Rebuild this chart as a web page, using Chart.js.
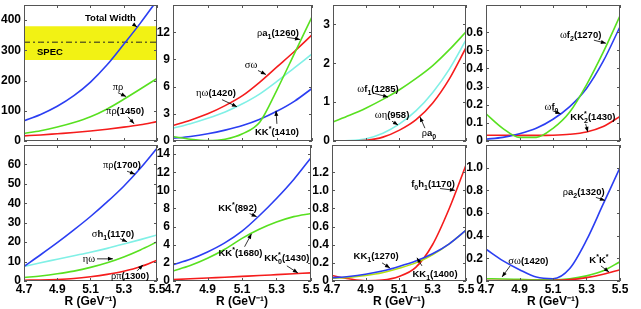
<!DOCTYPE html>
<html>
<head>
<meta charset="utf-8">
<script src="https://cdn.jsdelivr.net/npm/chart.js@4.4.1/dist/chart.umd.min.js"></script>
<style>
  body { margin: 0; background: #fff; width: 641px; height: 309px; position: relative; overflow: hidden; }
  canvas { position: absolute; }
</style>
</head>
<body>
<script>
const R = [4.7, 4.8, 4.9, 5.0, 5.1, 5.2, 5.3, 5.4, 5.5];
const xTicks = [4.7, 4.9, 5.1, 5.3, 5.5];

// top row
const totalWidth = [67, 88, 115, 150, 195, 252, 320, 390, 465];
const piRho = [25, 34, 46, 61, 80, 106, 138, 172, 207];
const piRho1450 = [17, 20, 24, 28, 33, 39, 46, 54, 64];
const specLow = 268, specMid = 327, specHigh = 380;
const ticksA = [0, 100, 200, 300, 400];

const sigmaOmega = [1.7, 2.3, 3.0, 3.9, 5.0, 6.5, 8.2, 9.9, 11.7];
const etaOmega1420 = [1.4, 1.9, 2.5, 3.2, 4.1, 5.2, 6.6, 8.1, 9.6];
const kkStar1410 = [0.3, 0.5, 0.8, 1.2, 1.7, 2.4, 3.3, 4.4, 5.8];
const rhoA1 = [0.5, 0.2, 0.05, 0.2, 0.8, 2.1, 5.7, 9.7, 13.7];
const ticksB = [0, 3, 6, 9, 12];

const omegaF1 = [0.49, 0.66, 0.85, 1.07, 1.32, 1.61, 1.94, 2.35, 2.81];
const omegaEta958 = [0, 0.01, 0.06, 0.2, 0.44, 0.78, 1.25, 1.85, 2.6];
const rhoA0 = [0, 0, 0.02, 0.1, 0.28, 0.55, 0.98, 1.6, 2.4];
const ticksC = [0, 1, 2, 3];

const omegaF0 = [0.01, 0.02, 0.04, 0.07, 0.12, 0.19, 0.29, 0.44, 0.63];
const omegaF2 = [0.15, 0.07, 0.02, 0.02, 0.07, 0.16, 0.31, 0.49, 0.69];
const kk2Star1430 = [0.032, 0.032, 0.031, 0.031, 0.032, 0.037, 0.05, 0.08, 0.135];
const ticksD = [0, 0.1, 0.2, 0.3, 0.4, 0.5, 0.6];

// bottom row
const piRho1700 = [7.5, 13.5, 19.7, 26.3, 33.2, 40.7, 48.8, 58.0, 68.3];
const sigmaH1 = [7.5, 9.4, 11.2, 13.0, 14.8, 16.8, 19.0, 21.3, 23.7];
const etaOmega = [1.8, 2.6, 3.7, 5.1, 7.0, 9.4, 12.4, 16.0, 20.1];
const rhoPi1300 = [0.4, 0.5, 0.8, 1.3, 2.2, 3.4, 5.0, 7.3, 10.7];
const ticksE = [0, 10, 20, 30, 40, 50, 60];

const kkStar892 = [1.8, 2.4, 3.2, 4.2, 5.5, 7.2, 9.1, 11.2, 13.6];
const kkStar1680 = [1.1, 1.7, 2.5, 3.5, 4.7, 5.7, 6.5, 7.1, 7.45];
const kk0Star1430 = [0.15, 0.24, 0.33, 0.42, 0.51, 0.6, 0.7, 0.8, 0.9];
const ticksF = [0, 2, 4, 6, 8, 10, 12, 14];

const f0h1 = [0.06, 0.025, 0.003, 0.01, 0.05, 0.15, 0.4, 0.8, 1.28];
const kk1_1270 = [0.035, 0.05, 0.075, 0.11, 0.16, 0.22, 0.3, 0.41, 0.56];
const kk1_1400 = [0.03, 0.04, 0.06, 0.09, 0.14, 0.2, 0.29, 0.41, 0.56];
const ticksG = [0, 0.2, 0.4, 0.6, 0.8, 1, 1.2];

const rhoA2 = [0.28, 0.18, 0.1, 0.035, 0.02, 0.11, 0.36, 0.68, 1.0];
const sigmaOmega1420 = [0.02, 0.018, 0.014, 0.01, 0.01, 0.02, 0.045, 0.09, 0.17];
const kStarKStar = [0.005, 0.004, 0.003, 0.003, 0.005, 0.012, 0.03, 0.06, 0.1];
const ticksH = [0, 0.2, 0.4, 0.6, 0.8, 1];

const BLUE = "#2b3ef2", RED = "#f51c1c", GREEN = "#58e020", CYAN = "#80f0e6", LIME = "#b4e010";

const fonts = {
  b: 'bold 9.5px "Liberation Sans"',
  g: '10.5px "Liberation Serif"',
  s: 'bold 7px "Liberation Sans"',
  u: 'bold 7px "Liberation Sans"'
};
const shift = { b: 0, g: 0, s: 3, u: -4 };

function line(vals, color) {
  return {
    data: R.map((x, i) => ({ x, y: vals[i] })),
    borderColor: color, borderWidth: 1.6, pointRadius: 0,
    cubicInterpolationMode: "monotone", fill: false
  };
}

const frame = {
  id: "frame",
  afterDatasetsDraw(c) {
    const { ctx, chartArea: a, scales } = c;
    ctx.save();
    ctx.strokeStyle = "#555";
    ctx.lineWidth = 1;
    ctx.strokeRect(a.left + 0.5, a.top + 0.5, a.width - 1, a.height - 1);
    ctx.beginPath();
    scales.x.ticks.forEach(t => {
      const px = Math.round(scales.x.getPixelForValue(t.value)) + 0.5;
      ctx.moveTo(px, a.bottom); ctx.lineTo(px, a.bottom - 3);
      ctx.moveTo(px, a.top); ctx.lineTo(px, a.top + 3);
    });
    scales.y.ticks.forEach(t => {
      const py = Math.round(scales.y.getPixelForValue(t.value)) + 0.5;
      ctx.moveTo(a.left, py); ctx.lineTo(a.left + 3, py);
      ctx.moveTo(a.right, py); ctx.lineTo(a.right - 3, py);
    });
    ctx.stroke();
    ctx.restore();
  }
};

function drawNotes(c, notes) {
  const { ctx, scales: { x, y } } = c;
  ctx.save();
  ctx.fillStyle = "#000";
  ctx.strokeStyle = "#000";
  notes.forEach(n => {
    if (n.a) {
      const x0 = x.getPixelForValue(n.a[0]), y0 = y.getPixelForValue(n.a[1]);
      const x1 = x.getPixelForValue(n.a[2]), y1 = y.getPixelForValue(n.a[3]);
      const ang = Math.atan2(y1 - y0, x1 - x0);
      ctx.lineWidth = 0.8;
      ctx.beginPath(); ctx.moveTo(x0, y0); ctx.lineTo(x1, y1); ctx.stroke();
      ctx.beginPath();
      ctx.moveTo(x1, y1);
      ctx.lineTo(x1 - 5 * Math.cos(ang) + 2 * Math.sin(ang), y1 - 5 * Math.sin(ang) - 2 * Math.cos(ang));
      ctx.lineTo(x1 - 5 * Math.cos(ang) - 2 * Math.sin(ang), y1 - 5 * Math.sin(ang) + 2 * Math.cos(ang));
      ctx.closePath(); ctx.fill();
    }
    let w = 0;
    n.t.forEach(s => { ctx.font = fonts[s[1]]; if (!s[2]) w += ctx.measureText(s[0]).width; });
    let px = x.getPixelForValue(n.x) - w / 2;
    const base = y.getPixelForValue(n.y) + 3.5;
    ctx.textBaseline = "alphabetic";
    ctx.textAlign = "left";
    n.t.forEach(s => {
      ctx.font = fonts[s[1]];
      ctx.fillText(s[0], px, base + shift[s[1]]);
      if (!s[2]) px += ctx.measureText(s[0]).width;
    });
  });
  ctx.restore();
}

const tickFont = { family: "Liberation Sans", size: 12, weight: "bold" };

function makePanel(p) {
  const [L, T, Rt, B] = p.rect;
  const padL = 30, padT = 3, padR = 12;
  const padB = p.bottom ? 28 : 6;
  const cv = document.createElement("canvas");
  cv.width = Rt - L + padL + padR;
  cv.height = B - T + padT + padB;
  cv.style.left = (L - padL) + "px";
  cv.style.top = (T - padT) + "px";
  document.body.appendChild(cv);
  new Chart(cv, {
    type: "line",
    data: { datasets: p.series },
    options: {
      responsive: false,
      animation: false,
      layout: { padding: { left: 0, top: padT, right: padR, bottom: p.bottom ? 0 : padB } },
      plugins: { legend: { display: false }, tooltip: { enabled: false } },
      scales: {
        x: {
          type: "linear", min: 4.7, max: 5.5,
          grid: { display: false, drawTicks: false }, border: { display: false },
          afterBuildTicks: s => { s.ticks = xTicks.map(v => ({ value: v })); },
          afterFit: s => { s.height = p.bottom ? 28 : 0; s.paddingLeft = 0; s.paddingRight = 0; },
          ticks: { display: p.bottom, padding: 1, maxRotation: 0, color: "#000", font: tickFont,
                   callback: v => v.toFixed(1) },
          title: { display: p.bottom, text: "R (GeV⁻¹)", color: "#000", padding: { top: -1, bottom: 0 },
                   font: { family: "Liberation Sans", size: 12, weight: "bold" } }
        },
        y: {
          min: 0, max: p.yMax,
          grid: { display: false, drawTicks: false }, border: { display: false },
          afterBuildTicks: s => { s.ticks = p.yTicks.map(v => ({ value: v })); },
          afterFit: s => { s.width = padL; s.paddingTop = 0; s.paddingBottom = 0; },
          ticks: { padding: 3, color: "#000", font: tickFont }
        }
      }
    },
    plugins: [frame, { id: "notes", afterDraw: c => drawNotes(c, p.notes) }]
  });
}

makePanel({
  rect: [24, 5, 157, 141], yMax: 450, yTicks: ticksA,
  series: [
    { data: R.map(x => ({ x, y: specLow })), borderWidth: 0, pointRadius: 0, fill: false, order: 5 },
    { data: R.map(x => ({ x, y: specHigh })), borderWidth: 0, pointRadius: 0, fill: "-1",
      backgroundColor: "#f2f214", order: 5 },
    { data: R.map(x => ({ x, y: specMid })), borderColor: "#222", borderWidth: 1,
      borderDash: [6, 3, 2, 3], pointRadius: 0, fill: false, order: 4 },
    line(totalWidth, BLUE), line(piRho, GREEN), line(piRho1450, RED)
  ],
  notes: [
    { t: [["Total Width", "b"]], x: 5.22, y: 407, a: [5.356, 387, 5.38, 377] },
    { t: [["SPEC", "b"]], x: 4.856, y: 297 },
    { t: [["πρ", "g"]], x: 5.265, y: 180, a: [5.265, 160, 5.314, 147] },
    { t: [["πρ", "g"], ["(1450)", "b"]], x: 5.308, y: 100, a: [5.326, 80, 5.362, 57] }
  ]
});

makePanel({
  rect: [173, 5, 312, 141], yMax: 15, yTicks: ticksB,
  series: [line(rhoA1, GREEN), line(sigmaOmega, RED), line(etaOmega1420, CYAN), line(kkStar1410, BLUE)],
  notes: [
    { t: [["ρ", "g"], ["a", "b"], ["1", "s"], ["(1260)", "b"]], x: 5.304, y: 12, a: [5.356, 11.44, 5.431, 11.2] },
    { t: [["σω", "g"]], x: 5.149, y: 8.44, a: [5.189, 7.78, 5.235, 7.33] },
    { t: [["ηω", "g"], ["(1420)", "b"]], x: 4.947, y: 5.33, a: [4.982, 4.56, 5.068, 3.78] },
    { t: [["KK", "b"], ["*", "u"], ["(1410)", "b"]], x: 5.298, y: 1.0, a: [5.298, 1.89, 5.293, 3.33] }
  ]
});

makePanel({
  rect: [333, 5, 466, 141], yMax: 3.5, yTicks: ticksC,
  series: [line(omegaF1, GREEN), line(rhoA0, RED), line(omegaEta958, CYAN)],
  notes: [
    { t: [["ω", "g"], ["f", "b"], ["1", "s"], ["(1285)", "b"]], x: 4.971, y: 1.36, a: [4.94, 1.235, 5.031, 1.13] },
    { t: [["ωη", "g"], ["(958)", "b"]], x: 5.055, y: 0.67, a: [5.055, 0.51, 5.091, 0.41] },
    { t: [["ρ", "g"], ["a", "b"], ["0", "s"]], x: 5.277, y: 0.21, a: [5.253, 0.33, 5.223, 0.62] }
  ]
});

makePanel({
  rect: [486, 5, 620, 141], yMax: 0.75, yTicks: ticksD,
  series: [line(omegaF2, GREEN), line(omegaF0, BLUE), line(kk2Star1430, RED)],
  notes: [
    { t: [["ω", "g"], ["f", "b"], ["2", "s"], ["(1270)", "b"]], x: 5.265, y: 0.589, a: [5.344, 0.556, 5.416, 0.539] },
    { t: [["ω", "g"], ["f", "b"], ["0", "s"]], x: 5.091, y: 0.189, a: [5.097, 0.167, 5.145, 0.15] },
    { t: [["KK", "b"], ["*", "u", 1], ["2", "s"], ["(1430)", "b"]], x: 5.338, y: 0.133, a: [5.295, 0.094, 5.308, 0.05] }
  ]
});

makePanel({
  rect: [24, 145, 157, 281], yMax: 70, yTicks: ticksE, bottom: true,
  series: [line(piRho1700, BLUE), line(sigmaH1, CYAN), line(etaOmega, GREEN), line(rhoPi1300, RED)],
  notes: [
    { t: [["πρ", "g"], ["(1700)", "b"]], x: 5.289, y: 60.1, a: [5.32, 56.5, 5.368, 55] },
    { t: [["σ", "g"], ["h", "b"], ["1", "s"], ["(1170)", "b"]], x: 5.235, y: 24.4, a: [5.277, 21.8, 5.32, 20.2] },
    { t: [["ηω", "g"]], x: 5.091, y: 11.4, a: [5.139, 11.4, 5.235, 11.4] },
    { t: [["ρπ", "g"], ["(1300)", "b"]], x: 5.338, y: 2.6, a: [5.38, 5.2, 5.416, 8.3] }
  ]
});

makePanel({
  rect: [173, 145, 311, 281], yMax: 15, yTicks: ticksF, bottom: true,
  series: [line(kkStar892, BLUE), line(kkStar1680, GREEN), line(kk0Star1430, RED)],
  notes: [
    { t: [["KK", "b"], ["*", "u"], ["(892)", "b"]], x: 5.074, y: 8.1, a: [5.144, 7.44, 5.185, 7.1] },
    { t: [["KK", "b"], ["*", "u"], ["(1680)", "b"]], x: 5.091, y: 3.1, a: [5.115, 3.78, 5.155, 5.2] },
    { t: [["KK", "b"], ["*", "u", 1], ["0", "s"], ["(1430)", "b"]], x: 5.36, y: 2.56, a: [5.36, 1.67, 5.424, 0.89] }
  ]
});

makePanel({
  rect: [332, 145, 466, 281], yMax: 1.5, yTicks: ticksG, bottom: true,
  series: [line(kk1_1270, BLUE), line(kk1_1400, LIME), line(f0h1, RED)],
  notes: [
    { t: [["f", "b"], ["0", "s"], ["h", "b"], ["1", "s"], ["(1170)", "b"]], x: 5.303, y: 1.08, a: [5.345, 1.02, 5.434, 1.0] },
    { t: [["KK", "b"], ["1", "s"], ["(1270)", "b"]], x: 4.963, y: 0.28, a: [4.999, 0.2, 5.046, 0.144] },
    { t: [["KK", "b"], ["1", "s"], ["(1400)", "b"]], x: 5.315, y: 0.08, a: [5.237, 0.167, 5.207, 0.256] }
  ]
});

makePanel({
  rect: [486, 145, 620, 281], yMax: 1.2, yTicks: ticksH, bottom: true,
  series: [line(rhoA2, BLUE), line(kStarKStar, RED), line(sigmaOmega1420, GREEN)],
  notes: [
    { t: [["ρ", "g"], ["a", "b"], ["2", "s"], ["(1320)", "b"]], x: 5.283, y: 0.79, a: [5.356, 0.738, 5.41, 0.711] },
    { t: [["σω", "g"], ["(1420)", "b"]], x: 4.953, y: 0.178, a: [4.844, 0.133, 4.796, 0.036] },
    { t: [["K", "b"], ["*", "u"], ["K", "b"], ["*", "u"]], x: 5.374, y: 0.187, a: [5.386, 0.133, 5.434, 0.08] }
  ]
});
</script>
</body>
</html>
